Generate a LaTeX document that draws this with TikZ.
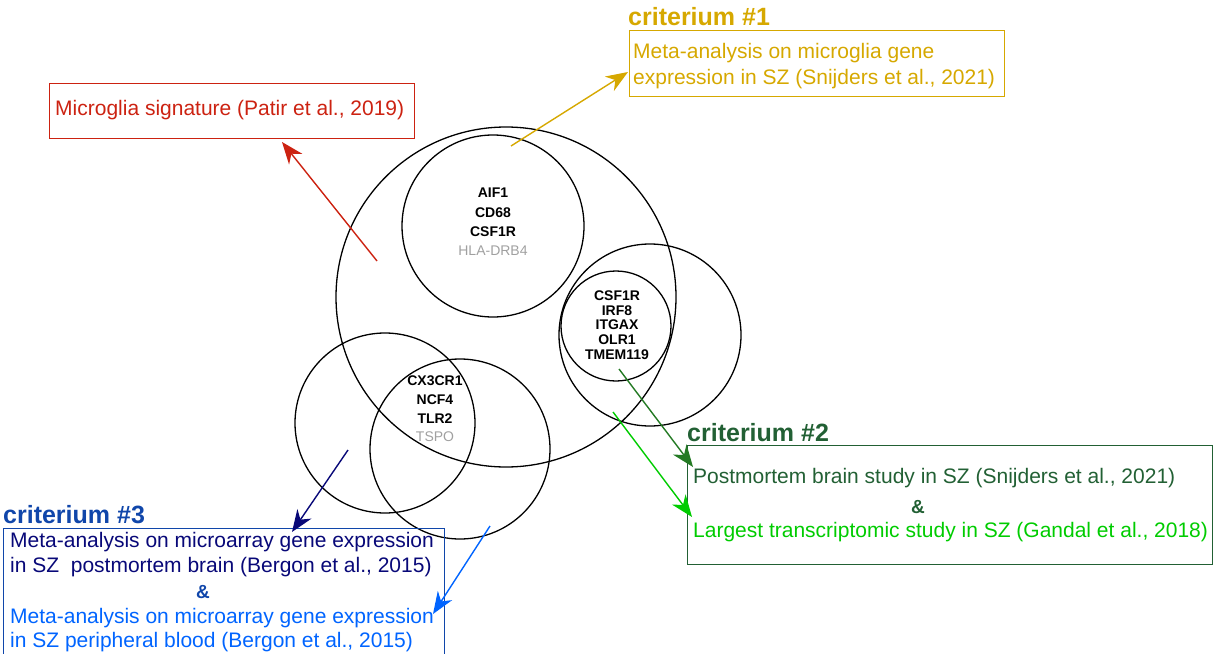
\documentclass[tikz,border=0pt]{standalone}
\usepackage{fontspec}
\setmainfont{Liberation Sans}
\usetikzlibrary{arrows.meta}
\definecolor{patirred}{RGB}{204,34,17}
\definecolor{critgold}{RGB}{214,168,0}
\definecolor{critgreen}{RGB}{34,96,52}
\definecolor{darkgreen}{RGB}{36,122,36}
\definecolor{lightgreen}{RGB}{0,204,0}
\definecolor{critblue}{RGB}{16,70,170}
\definecolor{navyblue}{RGB}{8,8,120}
\definecolor{lightblue}{RGB}{0,100,255}
\definecolor{genegray}{RGB}{160,160,160}

\begin{document}
\begin{tikzpicture}[x=1pt,y=-1pt,
  ring/.style={draw,circle,line width=1.3pt,inner sep=0pt},
  gene/.style={align=center,font=\fontsize{14}{#1}\selectfont\bfseries},
  body/.style={anchor=base west,inner sep=0pt,font=\fontsize{21}{26}\selectfont},
  crit/.style={anchor=base west,inner sep=0pt,font=\fontsize{25}{30}\selectfont\bfseries},
  amp/.style={font=\fontsize{19}{22}\selectfont\bfseries},
  frame/.style={draw,line width=1.2pt,anchor=north west,inner sep=0pt},
  pointer/.style={line width=1.4pt,-{Stealth[length=22pt,width=17pt,inset=7pt]}}]
  \useasboundingbox (0,0) rectangle (1215,653);

  \node[ring,minimum size=340] (microglia) at (506,297) {};
  \node[ring,minimum size=182] (metaring) at (493,226) {};
  \node[ring,minimum size=182] (gandalring) at (650,335) {};
  \node[ring,minimum size=110] (snijring) at (616,326) {};
  \node[ring,minimum size=180] (brainring) at (385,423) {};
  \node[ring,minimum size=180] (bloodring) at (460,449) {};

  \node[gene=19.3] (metagenes) at (493,222)
    {AIF1\\CD68\\CSF1R\\\textcolor{genegray}{\mdseries HLA-DRB4}};
  \node[gene=14.7] (snijgenes) at (617,325)
    {CSF1R\\IRF8\\ITGAX\\OLR1\\TMEM119};
  \node[gene=18.7] (bergongenes) at (435,409)
    {CX3CR1\\NCF4\\TLR2\\\textcolor{genegray}{\mdseries TSPO}};

  \node[frame,draw=patirred,minimum width=365,minimum height=55] (patirbox) at (49,83) {};
  \node[body,patirred] (patirtext) at (55,115) {Microglia signature (Patir et al., 2019)};

  \node[crit,critgold] (crit1) at (628,25) {criterium \#1};
  \node[frame,draw=critgold,minimum width=375,minimum height=66] (metabox) at (629,30) {};
  \node[body,critgold] (metatext1) at (633,58) {Meta-analysis on microglia gene};
  \node[body,critgold] (metatext2) at (633,84) {expression in SZ (Snijders et al., 2021)};

  \node[crit,critgreen] (crit2) at (687,441) {criterium \#2};
  \node[frame,draw=critgreen,minimum width=525,minimum height=119] (studybox) at (687,445) {};
  \node[body,critgreen] (snijtext) at (693,483) {Postmortem brain study in SZ (Snijders et al., 2021)};
  \node[amp,critgreen] (studyamp) at (918,507) {\&};
  \node[body,lightgreen] (gandaltext) at (693,537) {Largest transcriptomic study in SZ (Gandal et al., 2018)};

  \node[crit,critblue] (crit3) at (3,523) {criterium \#3};
  \node[frame,draw=critblue,minimum width=441,minimum height=130] (bergonbox) at (3,528) {};
  \node[body,navyblue] (braintext1) at (10,547) {Meta-analysis on microarray gene expression};
  \node[body,navyblue] (braintext2) at (10,572) {in SZ~ postmortem brain (Bergon et al., 2015)};
  \node[amp,critblue] (bergonamp) at (203,592) {\&};
  \node[body,lightblue] (bloodtext1) at (10,623) {Meta-analysis on microarray gene expression};
  \node[body,lightblue] (bloodtext2) at (10,647) {in SZ peripheral blood (Bergon et al., 2015)};

  \coordinate (patirfrom) at (377,261);
  \coordinate (patirto) at (282,142);
  \coordinate (metafrom) at (511,146);
  \coordinate (metato) at (628,72);
  \coordinate (snijfrom) at (619,369);
  \coordinate (snijto) at (693,467);
  \coordinate (gandalfrom) at (613,412);
  \coordinate (gandalto) at (692,517);
  \coordinate (brainfrom) at (348,450);
  \coordinate (brainto) at (292,532);
  \coordinate (bloodfrom) at (490,526);
  \coordinate (bloodto) at (433,614);

  \draw[pointer,patirred] (patirfrom) -- (patirto);
  \draw[pointer,critgold] (metafrom) -- (metato);
  \draw[pointer,darkgreen] (snijfrom) -- (snijto);
  \draw[pointer,lightgreen] (gandalfrom) -- (gandalto);
  \draw[pointer,navyblue] (brainfrom) -- (brainto);
  \draw[pointer,lightblue] (bloodfrom) -- (bloodto);
\end{tikzpicture}
\end{document}
